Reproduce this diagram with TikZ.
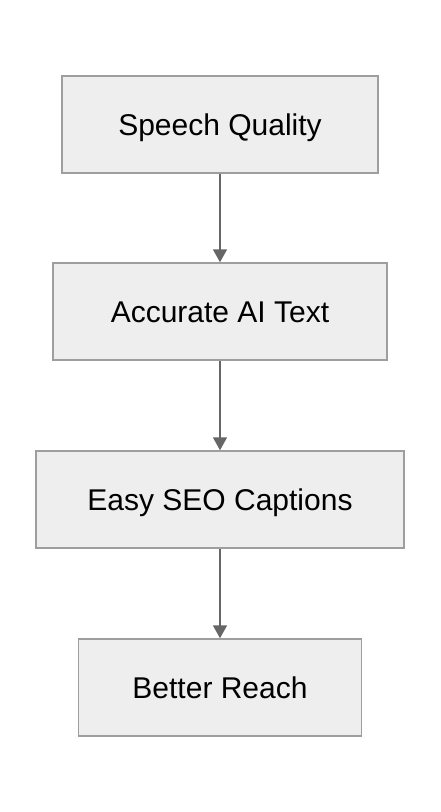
\documentclass[tikz,border=0pt]{standalone}
\usepackage{fontspec}
\setmainfont{Liberation Sans}
\usetikzlibrary{arrows.meta}
\definecolor{boxfill}{HTML}{EEEEEE}
\definecolor{boxline}{HTML}{9E9E9E}
\definecolor{arrowcol}{HTML}{666666}
\begin{document}
\begin{tikzpicture}[x=1pt,y=-1pt,
  flowbox/.style={draw=boxline,fill=boxfill,line width=1.5pt,rectangle,inner sep=0pt,
    minimum height=97pt,font=\fontsize{30}{34}\selectfont,text=black,
    text height=21.5pt,text depth=0pt},
  flowarrow/.style={draw=arrowcol,line width=1.6pt,-{Triangle[length=13pt,width=14pt]}}]
\useasboundingbox (0,0) rectangle (440,812);
\fill[white] (0,0) rectangle (440,812);
\node[flowbox,minimum width=316pt] (a) at (220,124.5) {Speech Quality};
\node[flowbox,minimum width=334pt] (b) at (220,311.5) {Accurate AI Text};
\node[flowbox,minimum width=368pt] (c) at (220,499.5) {Easy SEO Captions};
\node[flowbox,minimum width=283pt] (d) at (220,687.5) {Better Reach};
\draw[flowarrow] (a.south) -- (b.north);
\draw[flowarrow] (b.south) -- (c.north);
\draw[flowarrow] (c.south) -- (d.north);
\end{tikzpicture}
\end{document}
